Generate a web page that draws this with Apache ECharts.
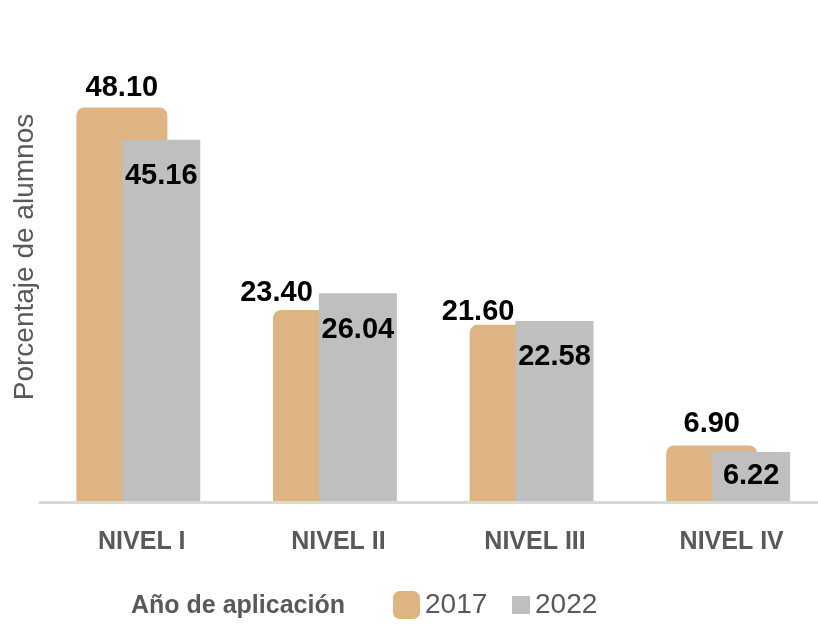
<!DOCTYPE html>
<html>
<head>
<meta charset="utf-8">
<script src="https://cdn.jsdelivr.net/npm/echarts@6/dist/echarts.min.js"></script>
<style>
  html, body { margin: 0; padding: 0; background: #fff; overflow: hidden; }
  /* un poco más ancho que la ventana: el eje sigue fuera del borde derecho */
  #chart { width: 830px; height: 626px; }
</style>
</head>
<body>
<div id="chart"></div>
<script>
// datos
const niveles = ['NIVEL I', 'NIVEL II', 'NIVEL III', 'NIVEL IV']
const valores2017 = [48.10, 23.40, 21.60, 6.90]
const valores2022 = [45.16, 26.04, 22.58, 6.22]

const gris = '#595959'
const font = '"Liberation Sans", Arial, sans-serif'

// etiquetas movidas a mano como en el original
const ajuste2017 = { 1: [-42, 2], 2: [-37, 7], 3: [0, -2] }
const ajuste2022 = { 3: [0, -13] }

const conAjuste = (valores, ajustes) =>
  valores.map((v, i) => (ajustes[i] ? { value: v, label: { offset: ajustes[i] } } : v))

const chart = echarts.init(document.getElementById('chart'))

const etiqueta = {
  show: true,
  formatter: p => p.value.toFixed(2),
  fontFamily: font,
  fontSize: 29,
  fontWeight: 'bold',
  color: '#000',
}

const option = {
  animation: false,
  title: {
    text: 'Año de aplicación',
    left: 131,
    top: 594,
    padding: 0,
    textStyle: { fontFamily: font, fontSize: 25, fontWeight: 'bold', color: gris },
  },
  graphic: [
    {
      type: 'text',
      x: 25,
      y: 257,
      rotation: Math.PI / 2,
      style: {
        text: 'Porcentaje de alumnos',
        fontFamily: font,
        fontSize: 28,
        fill: gris,
        align: 'center',
        verticalAlign: 'middle',
      },
    },
  ],
  legend: [
    {
      data: ['2017'],
      left: 393,
      top: 591,
      padding: 0,
      icon: 'roundRect',
      itemWidth: 27,
      itemHeight: 28,
      textStyle: { fontFamily: font, fontSize: 28, color: gris },
    },
    {
      data: ['2022'],
      left: 512,
      top: 591,
      padding: 0,
      icon: 'rect',
      itemWidth: 18,
      itemHeight: 18,
      textStyle: { fontFamily: font, fontSize: 28, color: gris },
    },
  ],
  grid: { left: 40, top: 101, width: 786.5, height: 401 },
  xAxis: {
    type: 'category',
    data: niveles,
    z: 3,
    axisTick: { show: false },
    axisLine: { lineStyle: { color: '#d9d9d9', width: 3 } },
    axisLabel: {
      margin: 28,
      padding: [0, 0, 0, 7],
      fontFamily: font,
      fontSize: 25,
      fontWeight: 'bold',
      color: gris,
    },
  },
  yAxis: [
    { type: 'value', min: 0, max: 50, show: false },
    { type: 'value', min: 0, max: 48.88, show: false },
  ],
  series: [
    {
      name: '2017',
      type: 'bar',
      yAxisIndex: 1,
      data: conAjuste(valores2017, ajuste2017),
      barWidth: 91,
      barGap: '-49.6%',
      itemStyle: { color: '#DDB482', borderRadius: [8, 8, 0, 0] },
      label: { ...etiqueta, position: 'top', distance: 5 },
    },
    {
      name: '2022',
      type: 'bar',
      yAxisIndex: 0,
      data: conAjuste(valores2022, ajuste2022),
      barWidth: 78,
      barGap: '-49.6%',
      itemStyle: { color: '#BFBFBF' },
      label: { ...etiqueta, position: 'insideTop', distance: 22 },
    },
  ],
}

chart.setOption(option)
</script>
</body>
</html>
